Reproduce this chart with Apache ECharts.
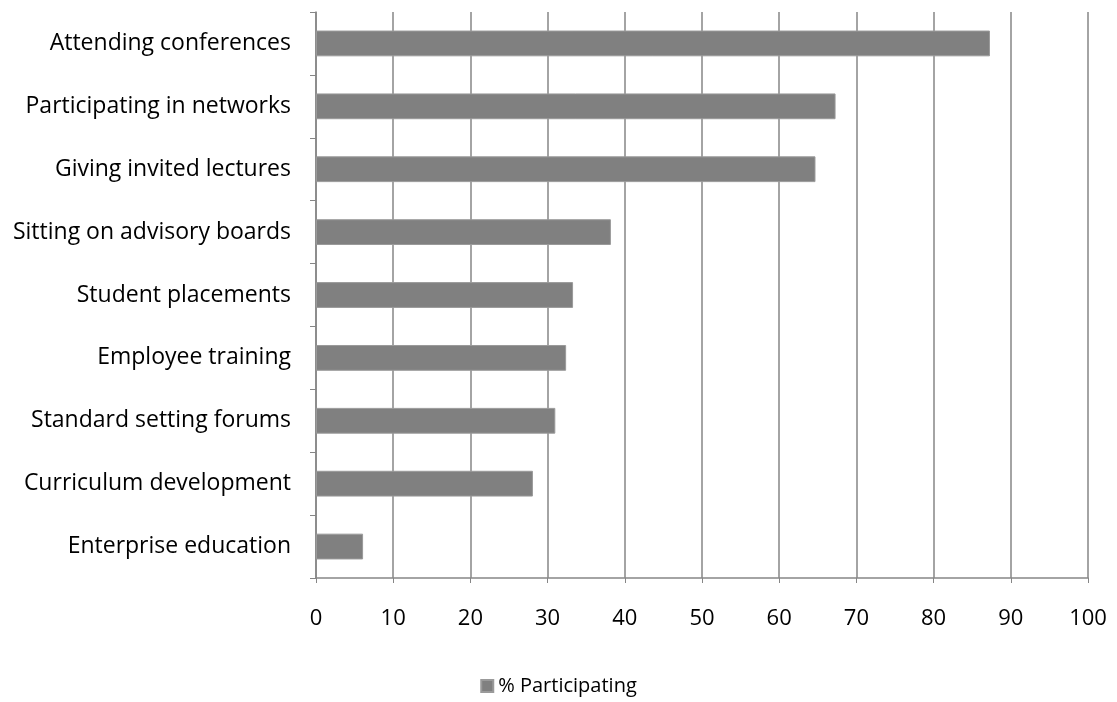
<!DOCTYPE html>
<html>
<head>
<meta charset="utf-8">
<script src="https://cdn.jsdelivr.net/npm/echarts@6/dist/echarts.min.js"></script>
<style>html,body{margin:0;padding:0;background:#fff;}#c{width:1117px;height:702px;}</style>
</head>
<body>
<div id="c"></div>
<script>
const categories = ["Attending conferences","Participating in networks","Giving invited lectures","Sitting on advisory boards","Student placements","Employee training","Standard setting forums","Curriculum development","Enterprise education"];
const participating = [87.3, 67.3, 64.7, 38.2, 33.3, 32.4, 31.0, 28.1, 6.1];
const seriesName = "% Participating";

const chart = echarts.init(document.getElementById('c'));
const font = "'Open Sans', sans-serif";
chart.setOption({
  animation: false,
  textStyle: { fontFamily: font },
  grid: { left: 316, right: 29, top: 12, bottom: 124, containLabel: false },
  xAxis: {
    type: 'value', min: 0, max: 100, interval: 10,
    axisLine: { show: true, lineStyle: { color: '#868686', width: 1.5 } },
    axisTick: { show: true, length: 5, lineStyle: { color: '#868686' } },
    splitLine: { show: true, lineStyle: { color: '#868686', width: 1.5 } },
    axisLabel: { color: '#000', fontSize: 22, margin: 30, fontFamily: font }
  },
  yAxis: {
    type: 'category', data: categories, inverse: true,
    axisLine: { show: true, lineStyle: { color: '#868686', width: 1.5 } },
    axisTick: { show: true, length: 6, lineStyle: { color: '#868686' } },
    axisLabel: { color: '#000', fontSize: 23, margin: 25, fontFamily: font }
  },
  legend: {
    bottom: 1, left: 'center', icon: 'rect', itemWidth: 12, itemHeight: 12, itemGap: 5,
    textStyle: { color: '#000', fontSize: 20, fontFamily: font },
    data: [seriesName]
  },
  series: [{
    name: seriesName, type: 'bar', data: participating, barWidth: '41%',
    itemStyle: { color: '#808080', borderColor: '#9a9a9a', borderWidth: 1 }
  }]
});
</script>
</body>
</html>
